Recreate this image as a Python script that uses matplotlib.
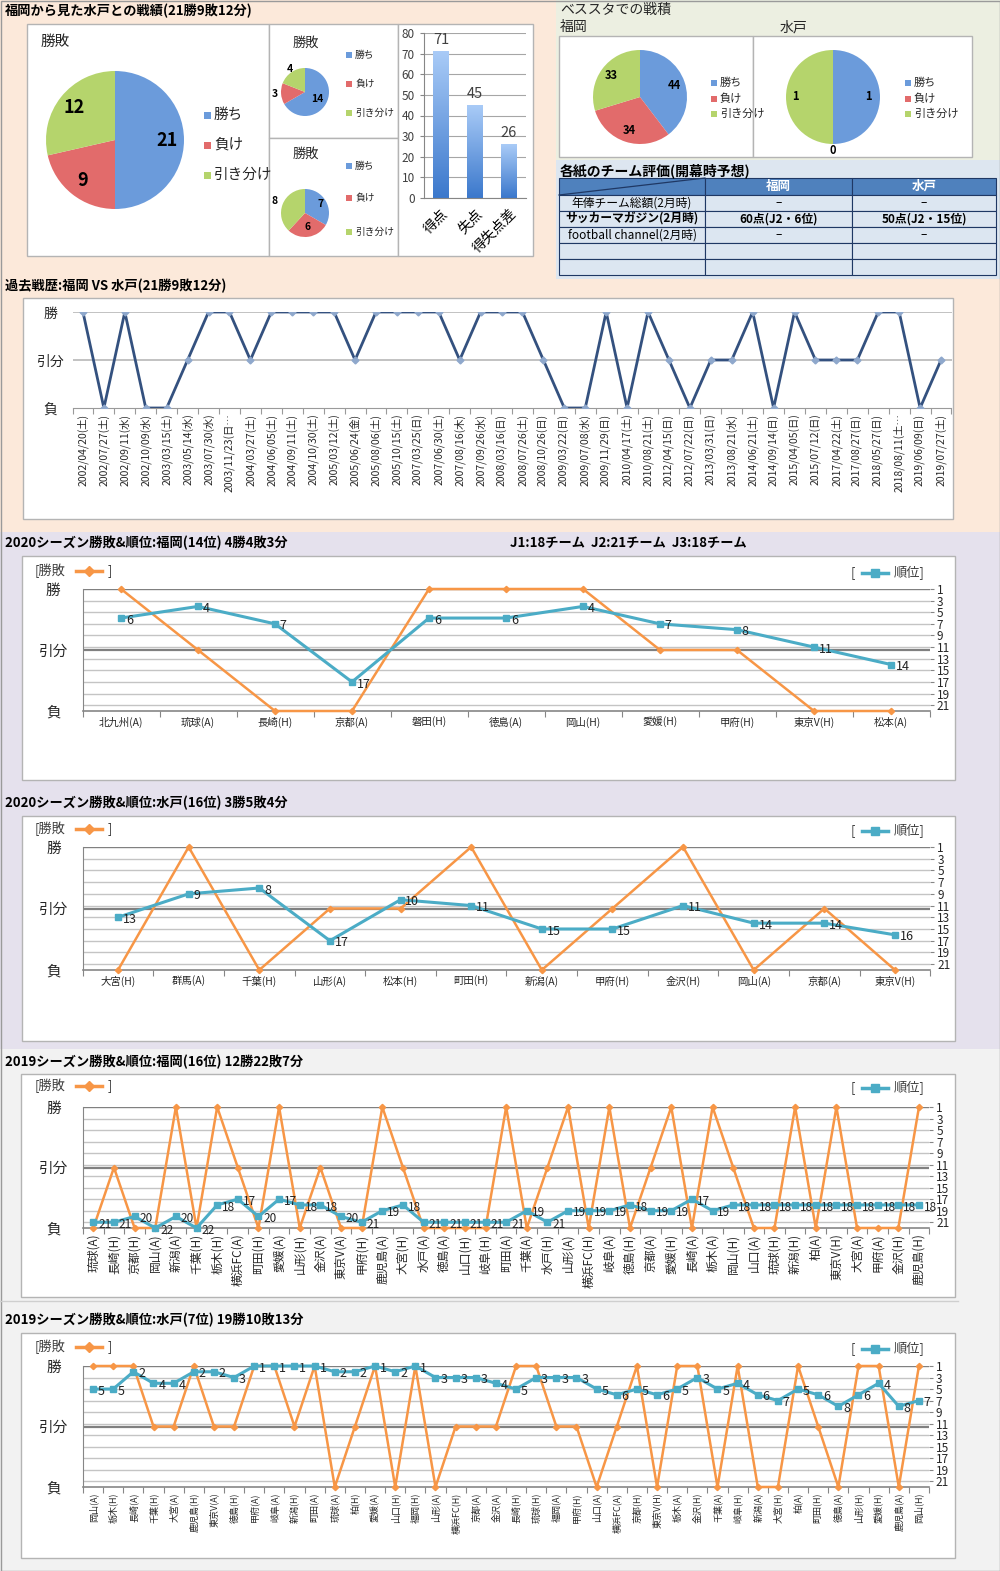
import numpy as np
import matplotlib
matplotlib.use("Agg")
import matplotlib.pyplot as plt
from matplotlib.patches import Rectangle
from matplotlib.colors import LinearSegmentedColormap

plt.rcParams['font.family'] = ['Noto Sans CJK JP', 'DejaVu Sans']

W, H = 1000, 1571

# ---------------- data ----------------
wdl_labels = ['勝ち', '負け', '引き分け']
total_wdl = [21, 9, 12]
home_wdl = [14, 3, 4]
away_wdl = [7, 6, 8]
goal_labels = ['得点', '失点', '得失点差']
goal_values = [71, 45, 26]
bessta_fukuoka = [44, 34, 33]
bessta_mito = [1, 0, 1]

eval_teams = ['福岡', '水戸']
eval_items = ['年俸チーム総額(2月時)', 'サッカーマガジン(2月時)', 'football channel(2月時)', '', '']
eval_fukuoka = ['–', '60点(J2・6位)', '–', '', '']
eval_mito = ['–', '50点(J2・15位)', '–', '', '']
eval_bold = [False, True, False, False, False]

history_dates = [
    '2002/04/20(土)', '2002/07/27(土)', '2002/09/11(水)', '2002/10/09(水)', '2003/03/15(土)',
    '2003/05/14(水)', '2003/07/30(水)', '2003/11/23(日…', '2004/03/27(土)', '2004/06/05(土)',
    '2004/09/11(土)', '2004/10/30(土)', '2005/03/12(土)', '2005/06/24(金)', '2005/08/06(土)',
    '2005/10/15(土)', '2007/03/25(日)', '2007/06/30(土)', '2007/08/16(木)', '2007/09/26(水)',
    '2008/03/16(日)', '2008/07/26(土)', '2008/10/26(日)', '2009/03/22(日)', '2009/07/08(水)',
    '2009/11/29(日)', '2010/04/17(土)', '2010/08/21(土)', '2012/04/15(日)', '2012/07/22(日)',
    '2013/03/31(日)', '2013/08/21(水)', '2014/06/21(土)', '2014/09/14(日)', '2015/04/05(日)',
    '2015/07/12(日)', '2017/04/22(土)', '2017/08/27(日)', '2018/05/27(日)', '2018/08/11(土…',
    '2019/06/09(日)', '2019/07/27(土)']
history_results = list('勝負勝負負分勝勝分勝' '勝勝勝分勝勝勝勝分勝' '勝勝分負負勝負勝分負'
                       '分分勝負勝分分分勝勝' '負分')

f2020_opp = ['北九州(A)', '琉球(A)', '長崎(H)', '京都(A)', '磐田(H)', '徳島(A)',
             '岡山(H)', '愛媛(H)', '甲府(H)', '東京V(H)', '松本(A)']
f2020_res = list('勝分負負勝勝勝分分負負')
f2020_rank = [6, 4, 7, 17, 6, 6, 4, 7, 8, 11, 14]

m2020_opp = ['大宮(H)', '群馬(A)', '千葉(H)', '山形(A)', '松本(H)', '町田(H)',
             '新潟(A)', '甲府(H)', '金沢(H)', '岡山(A)', '京都(A)', '東京V(H)']
m2020_res = list('負勝負分分勝負分勝負分負')
m2020_rank = [13, 9, 8, 17, 10, 11, 15, 15, 11, 14, 14, 16]

f2019_opp = ['琉球(A)', '長崎(H)', '京都(H)', '岡山(A)', '新潟(A)', '千葉(H)', '栃木(H)',
             '横浜FC(A)', '町田(H)', '愛媛(A)', '山形(H)', '金沢(A)', '東京V(A)', '甲府(H)',
             '鹿児島(A)', '大宮(H)', '水戸(A)', '徳島(A)', '山口(H)', '岐阜(H)', '町田(A)',
             '千葉(A)', '水戸(H)', '山形(A)', '横浜FC(H)', '岐阜(A)', '徳島(H)', '京都(A)',
             '愛媛(H)', '長崎(A)', '栃木(A)', '岡山(H)', '山口(A)', '琉球(H)', '新潟(H)',
             '柏(A)', '東京V(H)', '大宮(A)', '甲府(A)', '金沢(H)', '鹿児島(H)']
f2019_res = list('負分負負勝負勝分負勝' '負分負負勝分負負負負' '勝負分勝負勝負分勝負'
                 '勝分負負勝負勝負負負' '勝')
f2019_rank = [21, 21, 20, 22, 20, 22, 18, 17, 20, 17, 18, 18, 20, 21, 19, 18, 21, 21, 21, 21,
              21, 19, 21, 19, 19, 19, 18, 19, 19, 17, 19, 18, 18, 18, 18, 18, 18, 18, 18, 18, 18]

m2019_opp = ['岡山(A)', '栃木(H)', '長崎(A)', '千葉(H)', '大宮(A)', '鹿児島(H)', '東京V(A)',
             '徳島(H)', '甲府(A)', '岐阜(A)', '新潟(H)', '町田(A)', '琉球(A)', '柏(H)',
             '愛媛(A)', '山口(H)', '福岡(H)', '山形(A)', '横浜FC(H)', '京都(A)', '金沢(A)',
             '長崎(H)', '琉球(H)', '福岡(A)', '甲府(H)', '山口(A)', '横浜FC(A)', '京都(H)',
             '東京V(H)', '栃木(A)', '金沢(H)', '千葉(A)', '岐阜(H)', '新潟(A)', '大宮(H)',
             '柏(A)', '町田(H)', '徳島(A)', '山形(H)', '愛媛(H)', '鹿児島(A)', '岡山(H)']
m2019_res = list('勝勝勝分分勝分分勝勝' '分勝負分勝負勝負分分' '分勝勝分分負分勝負勝'
                 '勝負勝負負勝分負勝勝' '負勝')
m2019_rank = [5, 5, 2, 4, 4, 2, 2, 3, 1, 1, 1, 1, 2, 2, 1, 2, 1, 3, 3, 3, 4,
              5, 3, 3, 3, 5, 6, 5, 6, 5, 3, 5, 4, 6, 7, 5, 6, 8, 6, 4, 8, 7]

RES_Y = {'勝': 2, '分': 1, '負': 0}
N_TEAMS = 22
RANK_TICKS = list(range(1, 22, 2))

# ---------------- style ----------------
PEACH = '#fce9da'
GREENBG = '#ecefe1'
BLUEBG = '#dde6f0'
LAVENDER = '#e5e1ed'
GREYBG = '#f2f2f2'
EDGE = '#b4b4b4'
ORANGE = '#f79646'
TEAL = '#4bacc6'
NAVY = '#34517f'
PIE_COLORS = ['#6b9bdb', '#e26b6b', '#b5d46c']
GRID_LIGHT = '#c4c4c4'
GRID_DARK = '#808080'
TXT = '#262626'


def frac(x0, y0, x1, y1):
    return [x0 / W, 1 - y1 / H, (x1 - x0) / W, (y1 - y0) / H]


fig = plt.figure(figsize=(W / 100, H / 100), dpi=100)
bg = fig.add_axes([0, 0, 1, 1])
bg.set_xlim(0, W)
bg.set_ylim(H, 0)
bg.axis('off')


def block(x0, y0, x1, y1, fc, ec='none', lw=1.0):
    bg.add_patch(Rectangle((x0, y0), x1 - x0, y1 - y0, facecolor=fc, edgecolor=ec, lw=lw))


# section backgrounds
block(0, 0, W, 532, PEACH)
block(556, 0, W, 160, GREENBG)
block(556, 160, W, 279, BLUEBG)
block(0, 532, W, 1049, LAVENDER)
block(0, 1049, W, H, GREYBG)
bg.plot([0, 958], [1301, 1301], color='#cfcfcf', lw=1)
block(0.5, 0.5, W - 0.5, H - 0.5, 'none', '#9a9a9a', 1)


def square_legend(x, ys, fs, sq=6, clip=None):
    for y, lab, c in zip(ys, wdl_labels, PIE_COLORS):
        bg.add_patch(Rectangle((x, y - sq / 2), sq, sq, facecolor=c, edgecolor='none'))
        t = bg.text(x + sq + 3, y, lab, fontsize=fs, va='center', ha='left', color=TXT)
        if clip is not None:
            t.set_clip_path(Rectangle(clip[:2], clip[2], clip[3], transform=bg.transData))


def draw_pie(cx, cy, r, values, dists, fs):
    ax = fig.add_axes(frac(cx - r, cy - r, cx + r, cy + r))
    wedges, _ = ax.pie(values, colors=PIE_COLORS, startangle=90, counterclock=False,
                       wedgeprops=dict(linewidth=0))
    ax.set_xlim(-1, 1)
    ax.set_ylim(-1, 1)
    for w, v, d in zip(wedges, values, dists):
        a = np.deg2rad((w.theta1 + w.theta2) / 2)
        ax.text(d * np.cos(a), d * np.sin(a), str(v), ha='center', va='center',
                fontsize=fs, fontweight='bold', color='black')
    return ax


# ---------------- top left: head to head ----------------
bg.text(5, 11, '福岡から見た水戸との戦績(21勝9敗12分)', fontsize=9.5, fontweight='bold',
        va='center', color='black')
block(27, 24, 269, 256, 'white', EDGE)
block(269, 24, 398, 138, 'white', EDGE)
block(269, 138, 398, 256, 'white', EDGE)
block(398, 24, 533, 256, 'white', EDGE)

bg.text(41, 42, '勝敗', fontsize=10.5, va='center', color=TXT)
draw_pie(115, 140, 69, total_wdl, [0.76, 0.76, 0.76], 13)
square_legend(204, [115, 145, 175], 10.5, sq=7)

bg.text(293, 43, '勝敗', fontsize=9.5, va='center', color=TXT)
draw_pie(305, 92, 24, home_wdl, [0.6, 1.25, 1.15], 7.5)
square_legend(346, [55, 84, 113], 7)

bg.text(293, 154, '勝敗', fontsize=9.5, va='center', color=TXT)
draw_pie(305, 213, 24, away_wdl, [0.75, 0.6, 1.35], 7.5)
square_legend(346, [166, 198, 232], 7)

# goals bar chart
axb = fig.add_axes(frac(424, 33, 526, 198))
bars = axb.bar(range(len(goal_values)), goal_values, width=0.45, color='none', zorder=2)
grad_cmap = LinearSegmentedColormap.from_list('bar', ['#3b78cc', '#a9cbf7'])
grad = np.linspace(0, 1, 128).reshape(-1, 1)
for b in bars:
    x0 = b.get_x()
    axb.imshow(grad, extent=[x0, x0 + b.get_width(), 0, b.get_height()], origin='lower',
               cmap=grad_cmap, aspect='auto', zorder=2)
for i, v in enumerate(goal_values):
    axb.text(i, v + 2, str(v), ha='center', va='bottom', fontsize=10.5, color='#404040')
axb.set_xlim(-0.5, len(goal_values) - 0.5)
axb.set_ylim(0, 80)
axb.set_yticks(range(0, 81, 10))
axb.yaxis.grid(True, color='#a6a6a6', lw=0.8)
axb.set_axisbelow(True)
axb.set_xticks(range(len(goal_labels)))
axb.set_xticklabels(goal_labels, rotation=45, ha='right', rotation_mode='anchor', fontsize=10)
axb.tick_params(axis='y', labelsize=8.5, labelcolor='#404040', length=3, color='#868686')
axb.tick_params(axis='x', length=0, pad=6)
for s in ['top', 'right']:
    axb.spines[s].set_visible(False)
for s in ['left', 'bottom']:
    axb.spines[s].set_color('#868686')
axb.set_facecolor('none')

# ---------------- top right: Bessta + table ----------------
bg.text(560, 10, 'ベススタでの戦積', fontsize=10, va='center', color=TXT)
bg.text(560, 27, '福岡', fontsize=10, va='center', color=TXT)
bg.text(780, 27, '水戸', fontsize=10, va='center', color=TXT)
block(559, 36, 753, 157, 'white', EDGE)
block(753, 36, 972, 157, 'white', EDGE)
draw_pie(640, 97, 47, bessta_fukuoka, [0.78, 0.74, 0.76], 8)
square_legend(711, [83, 99, 114], 8, clip=(559, 36, 193, 121))
draw_pie(833, 97, 47, bessta_mito, [0.75, 1.13, 0.8], 8)
square_legend(905, [83, 99, 114], 8)

bg.text(560, 171, '各紙のチーム評価(開幕時予想)', fontsize=10, fontweight='bold',
        va='center', color='black')
col_x = [559, 705, 852, 996]
row_y = [178, 195, 211, 227, 243, 259, 275]
TBL_EDGE = '#1f3864'
for j in range(3):
    block(col_x[j], row_y[0], col_x[j + 1], row_y[1], '#4f81bd', TBL_EDGE, 0.8)
bg.plot([col_x[0], col_x[1]], [row_y[1], row_y[0]], color=TBL_EDGE, lw=0.9)
for j, team in enumerate(eval_teams):
    bg.text((col_x[j + 1] + col_x[j + 2]) / 2, (row_y[0] + row_y[1]) / 2, team,
            ha='center', va='center', fontsize=9, fontweight='bold', color='white')
for i, (item, fv, mv, bold) in enumerate(zip(eval_items, eval_fukuoka, eval_mito, eval_bold)):
    yc = (row_y[i + 1] + row_y[i + 2]) / 2
    for j, s in enumerate([item, fv, mv]):
        block(col_x[j], row_y[i + 1], col_x[j + 1], row_y[i + 2], '#dce6f1', TBL_EDGE, 0.8)
        bg.text((col_x[j] + col_x[j + 1]) / 2, yc, s, ha='center', va='center',
                fontsize=8.5, fontweight='bold' if bold else 'normal', color='black')

# ---------------- history ----------------
bg.text(5, 286, '過去戦歴:福岡 VS 水戸(21勝9敗12分)', fontsize=9.5, fontweight='bold',
        va='center', color='black')
block(23, 298, 953, 519, 'white', EDGE)
axh = fig.add_axes(frac(72.5, 312, 951.5, 408))
axh.set_facecolor('none')
xh = np.arange(len(history_dates))
axh.plot(xh, [RES_Y[r] for r in history_results], color=NAVY, lw=2, marker='D', ms=3.5,
         mfc='#8fa8cc', mec='#8fa8cc', zorder=3)
axh.set_xlim(-0.5, len(xh) - 0.5)
axh.set_ylim(0, 2)
for v in (1, 2):
    axh.axhline(v, color='#bdbdbd', lw=1.3, zorder=1)
axh.set_yticks([0, 1, 2], ['負', '引分', '勝'], fontsize=10)
for t in axh.get_yticklabels():
    t.set_ha('center')
axh.tick_params(axis='y', length=0, pad=16, labelcolor=TXT)
axh.set_xticks(np.arange(-0.5, len(xh), 1))
axh.set_xticklabels([])
axh.set_xticks(xh, history_dates, minor=True, rotation=90, fontsize=7.5)
axh.tick_params(axis='x', which='major', length=4, color='#9a9a9a')
axh.tick_params(axis='x', which='minor', length=0, pad=4, labelcolor=TXT)
for s in ['top', 'right', 'left']:
    axh.spines[s].set_visible(False)
axh.spines['bottom'].set_color('#9a9a9a')


# ---------------- season charts ----------------
def series_legend(y_left, y_right, fs):
    bg.text(35, y_left, '[勝敗', va='center', ha='left', fontsize=fs, color='#404040')
    bg.plot([76, 102], [y_left, y_left], color=ORANGE, lw=2.5)
    bg.plot([89], [y_left], marker='D', color=ORANGE, ms=5)
    bg.text(108, y_left, ']', va='center', ha='left', fontsize=fs, color='#404040')
    bg.text(851, y_right, '[', va='center', ha='left', fontsize=fs, color='#404040')
    bg.plot([862, 888], [y_right, y_right], color=TEAL, lw=2.5)
    bg.plot([875], [y_right], marker='s', color=TEAL, ms=5.5)
    bg.text(894, y_right, '順位]', va='center', ha='left', fontsize=fs, color='#404040')


def season_chart(panel, plot, title, title_y, legend_y, opponents, results, ranks,
                 xfs, xrot, rank_fs, title_fs=9.5):
    block(*panel, 'white', EDGE)
    bg.text(5, title_y, title, fontsize=title_fs, fontweight='bold', va='center', color='black')
    series_legend(legend_y, legend_y + 2, 9.5)

    ax = fig.add_axes(frac(*plot))
    ax.set_facecolor('none')
    n = len(opponents)
    x = np.arange(n)
    ax.set_xlim(-0.5, n - 0.5)
    ax.set_ylim(0, 2)
    for r in RANK_TICKS:
        ax.axhline(2 * (N_TEAMS - r) / (N_TEAMS - 1), color=GRID_LIGHT, lw=1, zorder=1)
    for v in (1, 2):
        ax.axhline(v, color=GRID_DARK, lw=1.6, zorder=1)
    ax.plot(x, [RES_Y[r] for r in results], color=ORANGE, lw=1.8, marker='D', ms=3.2,
            zorder=3, clip_on=False)
    ax.set_yticks([0, 1, 2], ['負', '引分', '勝'], fontsize=10.5)
    for t in ax.get_yticklabels():
        t.set_ha('center')
    ax.tick_params(axis='y', length=0, pad=21, labelcolor=TXT)
    ax.set_xticks(np.arange(-0.5, n, 1))
    ax.set_xticklabels([])
    ax.set_xticks(x, opponents, minor=True, fontsize=xfs, rotation=xrot)
    ax.tick_params(axis='x', which='major', length=4, color='#868686')
    ax.tick_params(axis='x', which='minor', length=0, pad=4, labelcolor=TXT)
    for s in ['top', 'right']:
        ax.spines[s].set_visible(False)
    ax.spines['left'].set_color('#868686')
    ax.spines['bottom'].set_color('#868686')
    ax.spines['bottom'].set_linewidth(1.2)

    ax2 = ax.twinx()
    ax2.plot(x, ranks, color=TEAL, lw=2.2, marker='s', ms=4.5, zorder=4, clip_on=False)
    ax2.set_ylim(N_TEAMS, 1)
    ax2.set_yticks(RANK_TICKS)
    ax2.tick_params(axis='y', labelsize=8.5, length=3, color='#868686', pad=2, labelcolor=TXT)
    for s in ax2.spines.values():
        s.set_visible(False)
    for xi, r in zip(x, ranks):
        ax2.annotate(str(r), (xi, r), xytext=(3.5, -1.5), textcoords='offset points',
                     fontsize=rank_fs, va='center', ha='left', color='#222222',
                     annotation_clip=False, zorder=5)


season_chart((22, 556, 955, 780), (82.5, 589, 929.5, 711),
             '2020シーズン勝敗&順位:福岡(14位) 4勝4敗3分', 543, 571,
             f2020_opp, f2020_res, f2020_rank, 7.5, 0, 9, title_fs=9.5)
bg.text(510, 543, 'J1:18チーム  J2:21チーム  J3:18チーム', fontsize=9.5, fontweight='bold',
        va='center', color='black')

season_chart((22, 816, 955, 1041), (82.7, 847, 930.3, 970),
             '2020シーズン勝敗&順位:水戸(16位) 3勝5敗4分', 803, 829,
             m2020_opp, m2020_res, m2020_rank, 7.5, 0, 9, title_fs=9.5)

season_chart((21, 1074, 955, 1297), (83, 1107, 929.3, 1228),
             '2019シーズン勝敗&順位:福岡(16位) 12勝22敗7分', 1062, 1086,
             f2019_opp, f2019_res, f2019_rank, 8.5, 90, 8.5)

season_chart((21, 1333, 955, 1558), (83, 1366, 929, 1487),
             '2019シーズン勝敗&順位:水戸(7位) 19勝10敗13分', 1320, 1347,
             m2019_opp, m2019_res, m2019_rank, 6.5, 90, 9)

fig.savefig('out.png', dpi=100)
